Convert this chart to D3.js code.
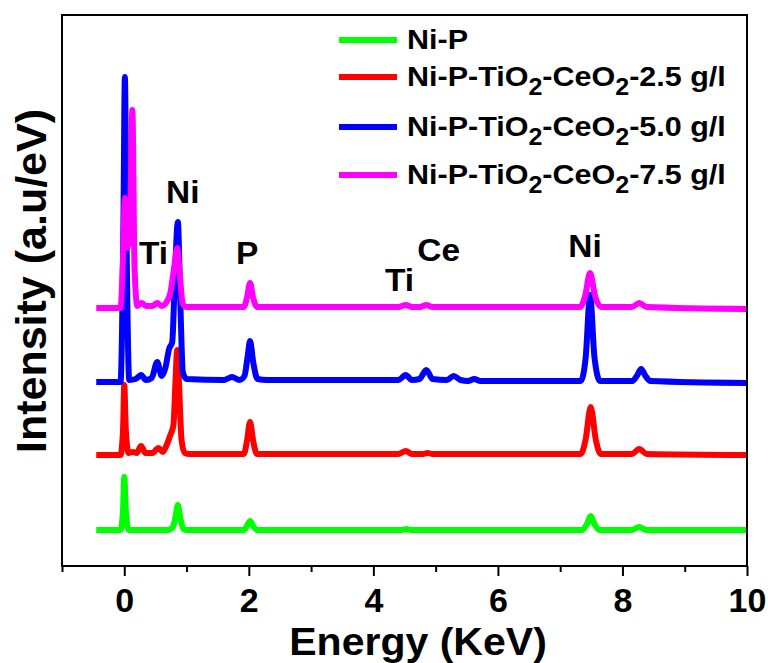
<!DOCTYPE html>
<html>
<head>
<meta charset="utf-8">
<script src="https://cdn.jsdelivr.net/npm/d3@7"></script>
<style>
  body { margin: 0; background: #fff; }
  svg { display: block; font-family: Arial, "Liberation Sans", sans-serif; font-weight: bold; }
</style>
</head>
<body>
<svg></svg>
<script>
/*
*  DATA
*/

// EDS spectra, [energy keV, intensity a.u. above own baseline]
let niP = [[-0.45,0],[-0.06,0],[-0.02,20],[0.0,53],[0.025,20],[0.07,0],
  [0.7,0],[0.78,3],[0.82,12],[0.86,25],[0.9,12],[0.95,1],[1.0,0],
  [1.92,0],[1.97,4],[2.02,9],[2.07,4],[2.13,0],
  [4.45,0],[4.53,1],[4.6,0],
  [7.35,0],[7.43,6],[7.49,14],[7.55,6],[7.63,0],
  [8.15,0],[8.27,3],[8.38,0],[10,0]]

let niP25 = [[-0.45,0],[-0.06,0],[-0.02,25],[0.0,70],[0.025,25],[0.07,2],[0.14,3],[0.2,2],
  [0.27,9],[0.34,2],[0.45,2],[0.55,7],[0.62,3],[0.68,10],[0.74,20],[0.79,30],[0.82,70],
  [0.85,105],[0.88,70],[0.92,15],[0.97,2],[1.05,1],[1.7,1],[1.92,1],[1.97,14],[2.02,33],
  [2.07,14],[2.13,1],[4.4,1],[4.52,4],[4.62,1],[4.8,1],[4.87,2],[4.95,1],
  [7.33,1],[7.41,16],[7.49,48],[7.57,16],[7.65,1],[8.15,1],[8.27,6],[8.39,1],[10,0]]

let niP50 = [[-0.45,0],[-0.06,0],[-0.015,150],[0.01,305],[0.035,150],[0.08,2],[0.18,3],
  [0.27,7],[0.35,2],[0.44,4],[0.53,20],[0.6,6],[0.66,14],[0.72,33],[0.77,40],[0.81,100],
  [0.86,160],[0.9,80],[0.94,10],[1.0,3],[1.6,2],[1.73,5],[1.85,2],[1.93,6],[1.98,25],
  [2.02,41],[2.07,20],[2.14,3],[2.3,2],[4.4,2],[4.52,7],[4.62,2],[4.74,3],[4.85,12],
  [4.95,3],[5.18,2],[5.29,6],[5.4,2],[5.52,1],[5.62,3],[5.72,1],[7.33,1],[7.41,25],
  [7.48,87],[7.55,25],[7.64,1],[8.16,1],[8.23,6],[8.3,13],[8.37,6],[8.45,1],[10,-1]]

let niP75 = [[-0.45,0],[-0.06,0],[-0.02,50],[0.01,110],[0.05,60],[0.09,80],[0.13,198],
  [0.165,40],[0.21,2],[0.28,5],[0.35,2],[0.45,2],[0.53,5],[0.6,2],[0.68,6],[0.74,15],
  [0.8,40],[0.85,60],[0.89,35],[0.94,4],[1.0,1],[1.92,1],[1.97,10],[2.02,25],[2.07,10],
  [2.13,1],[4.4,1],[4.52,3],[4.62,1],[4.75,1],[4.85,3],[4.95,1],[7.32,1],[7.4,12],
  [7.48,35],[7.56,12],[7.66,1],[8.15,1],[8.27,5],[8.39,1],[10,-1]]

let spectra = [niP, niP25, niP50, niP75]
let offsets = [36, 111, 184, 258]
let colors = ['#00ff00', '#ff0000', '#0000ff', '#ff00ff']
// legend labels: [text, sub, text, sub, text]
let labels = [
  ['Ni-P'],
  ['Ni-P-TiO', '2', '-CeO', '2', '-2.5 g/l'],
  ['Ni-P-TiO', '2', '-CeO', '2', '-5.0 g/l'],
  ['Ni-P-TiO', '2', '-CeO', '2', '-7.5 g/l']
]
let peaks = [
  {name: 'Ni', e: 0.94, y: 203},
  {name: 'Ti', e: 0.47, y: 264},
  {name: 'P', e: 1.975, y: 264},
  {name: 'Ti', e: 4.42, y: 291},
  {name: 'Ce', e: 5.05, y: 261},
  {name: 'Ni', e: 7.40, y: 257}
]
let majorTicks = [0, 2, 4, 6, 8, 10]
let minorTicks = [-1, 1, 3, 5, 7, 9]

/*
*  RUN
*/

let width = 768,
    height = 663,
    m = {left: 62, right: 747, top: 15, bottom: 566},
    sx = 1.09

let svg = d3.select('svg').attr('width', width).attr('height', height)

let x = d3.scaleLinear().domain([-1, 10]).range([m.left, m.right])
let y = d3.scaleLinear().domain([0, 551]).range([m.bottom, m.top])

let line = d3.line()
  .x(d => x(d[0]))
  .y(d => y(d[1]))
  .curve(d3.curveMonotoneX)

// spectra
spectra.forEach((s, i) => {
  svg.append('path')
    .datum(s.map(d => [d[0], d[1] + offsets[i]]))
    .attr('d', line)
    .attr('fill', 'none')
    .attr('stroke', colors[i])
    .attr('stroke-width', 6)
    .attr('stroke-linejoin', 'round')
})

// frame
svg.append('rect')
  .attr('x', m.left).attr('y', m.top)
  .attr('width', m.right - m.left).attr('height', m.bottom - m.top)
  .attr('fill', 'none').attr('stroke', '#000').attr('stroke-width', 2)

// x axis
let xAxis = svg.append('g').attr('transform', `translate(0,${m.bottom})`)
  .call(d3.axisBottom(x).tickValues(majorTicks).tickSize(10).tickSizeOuter(0).tickPadding(12))
xAxis.select('.domain').remove()
xAxis.selectAll('line').attr('stroke-width', 2)
xAxis.selectAll('text').attr('font-size', 34).attr('font-weight', 'bold')
  .attr('font-family', 'Arial, "Liberation Sans", sans-serif').attr('dy', '0.71em')

let xMinor = svg.append('g').attr('transform', `translate(0,${m.bottom})`)
  .call(d3.axisBottom(x).tickValues(minorTicks).tickSize(6).tickSizeOuter(0).tickFormat(''))
xMinor.select('.domain').remove()
xMinor.selectAll('line').attr('stroke-width', 2)

svg.append('text')
  .attr('transform', `translate(418,655) scale(1.08,1)`)
  .attr('text-anchor', 'middle')
  .attr('font-size', 38)
  .text('Energy (KeV)')

svg.append('text')
  .attr('transform', 'translate(46,281) rotate(-90)')
  .attr('text-anchor', 'middle')
  .attr('font-size', 43)
  .text('Intensity (a.u/eV)')

// peak labels
svg.selectAll('.peak')
  .data(peaks)
  .enter()
  .append('text')
  .attr('class', 'peak')
  .attr('transform', d => `translate(${x(d.e)},${d.y}) scale(1.08,1)`)
  .attr('text-anchor', 'middle')
  .attr('font-size', 31)
  .text(d => d.name)

// legend
let legY = [40, 77, 127, 175]
let leg = svg.append('g').attr('class', 'legend')
labels.forEach((l, i) => {
  leg.append('line')
    .attr('x1', 339).attr('x2', 397)
    .attr('y1', legY[i]).attr('y2', legY[i])
    .attr('stroke', colors[i]).attr('stroke-width', 6)
  let t = leg.append('text')
    .attr('transform', `translate(407,${legY[i] + 9}) scale(${sx},1)`)
    .attr('font-size', 28)
  l.forEach((part, j) => {
    let sub = j % 2 === 1
    t.append('tspan')
      .attr('font-size', sub ? 23 : 28)
      .attr('dy', sub ? 9 : (j > 0 ? -9 : 0))
      .text(part)
  })
})
</script>
</body>
</html>
